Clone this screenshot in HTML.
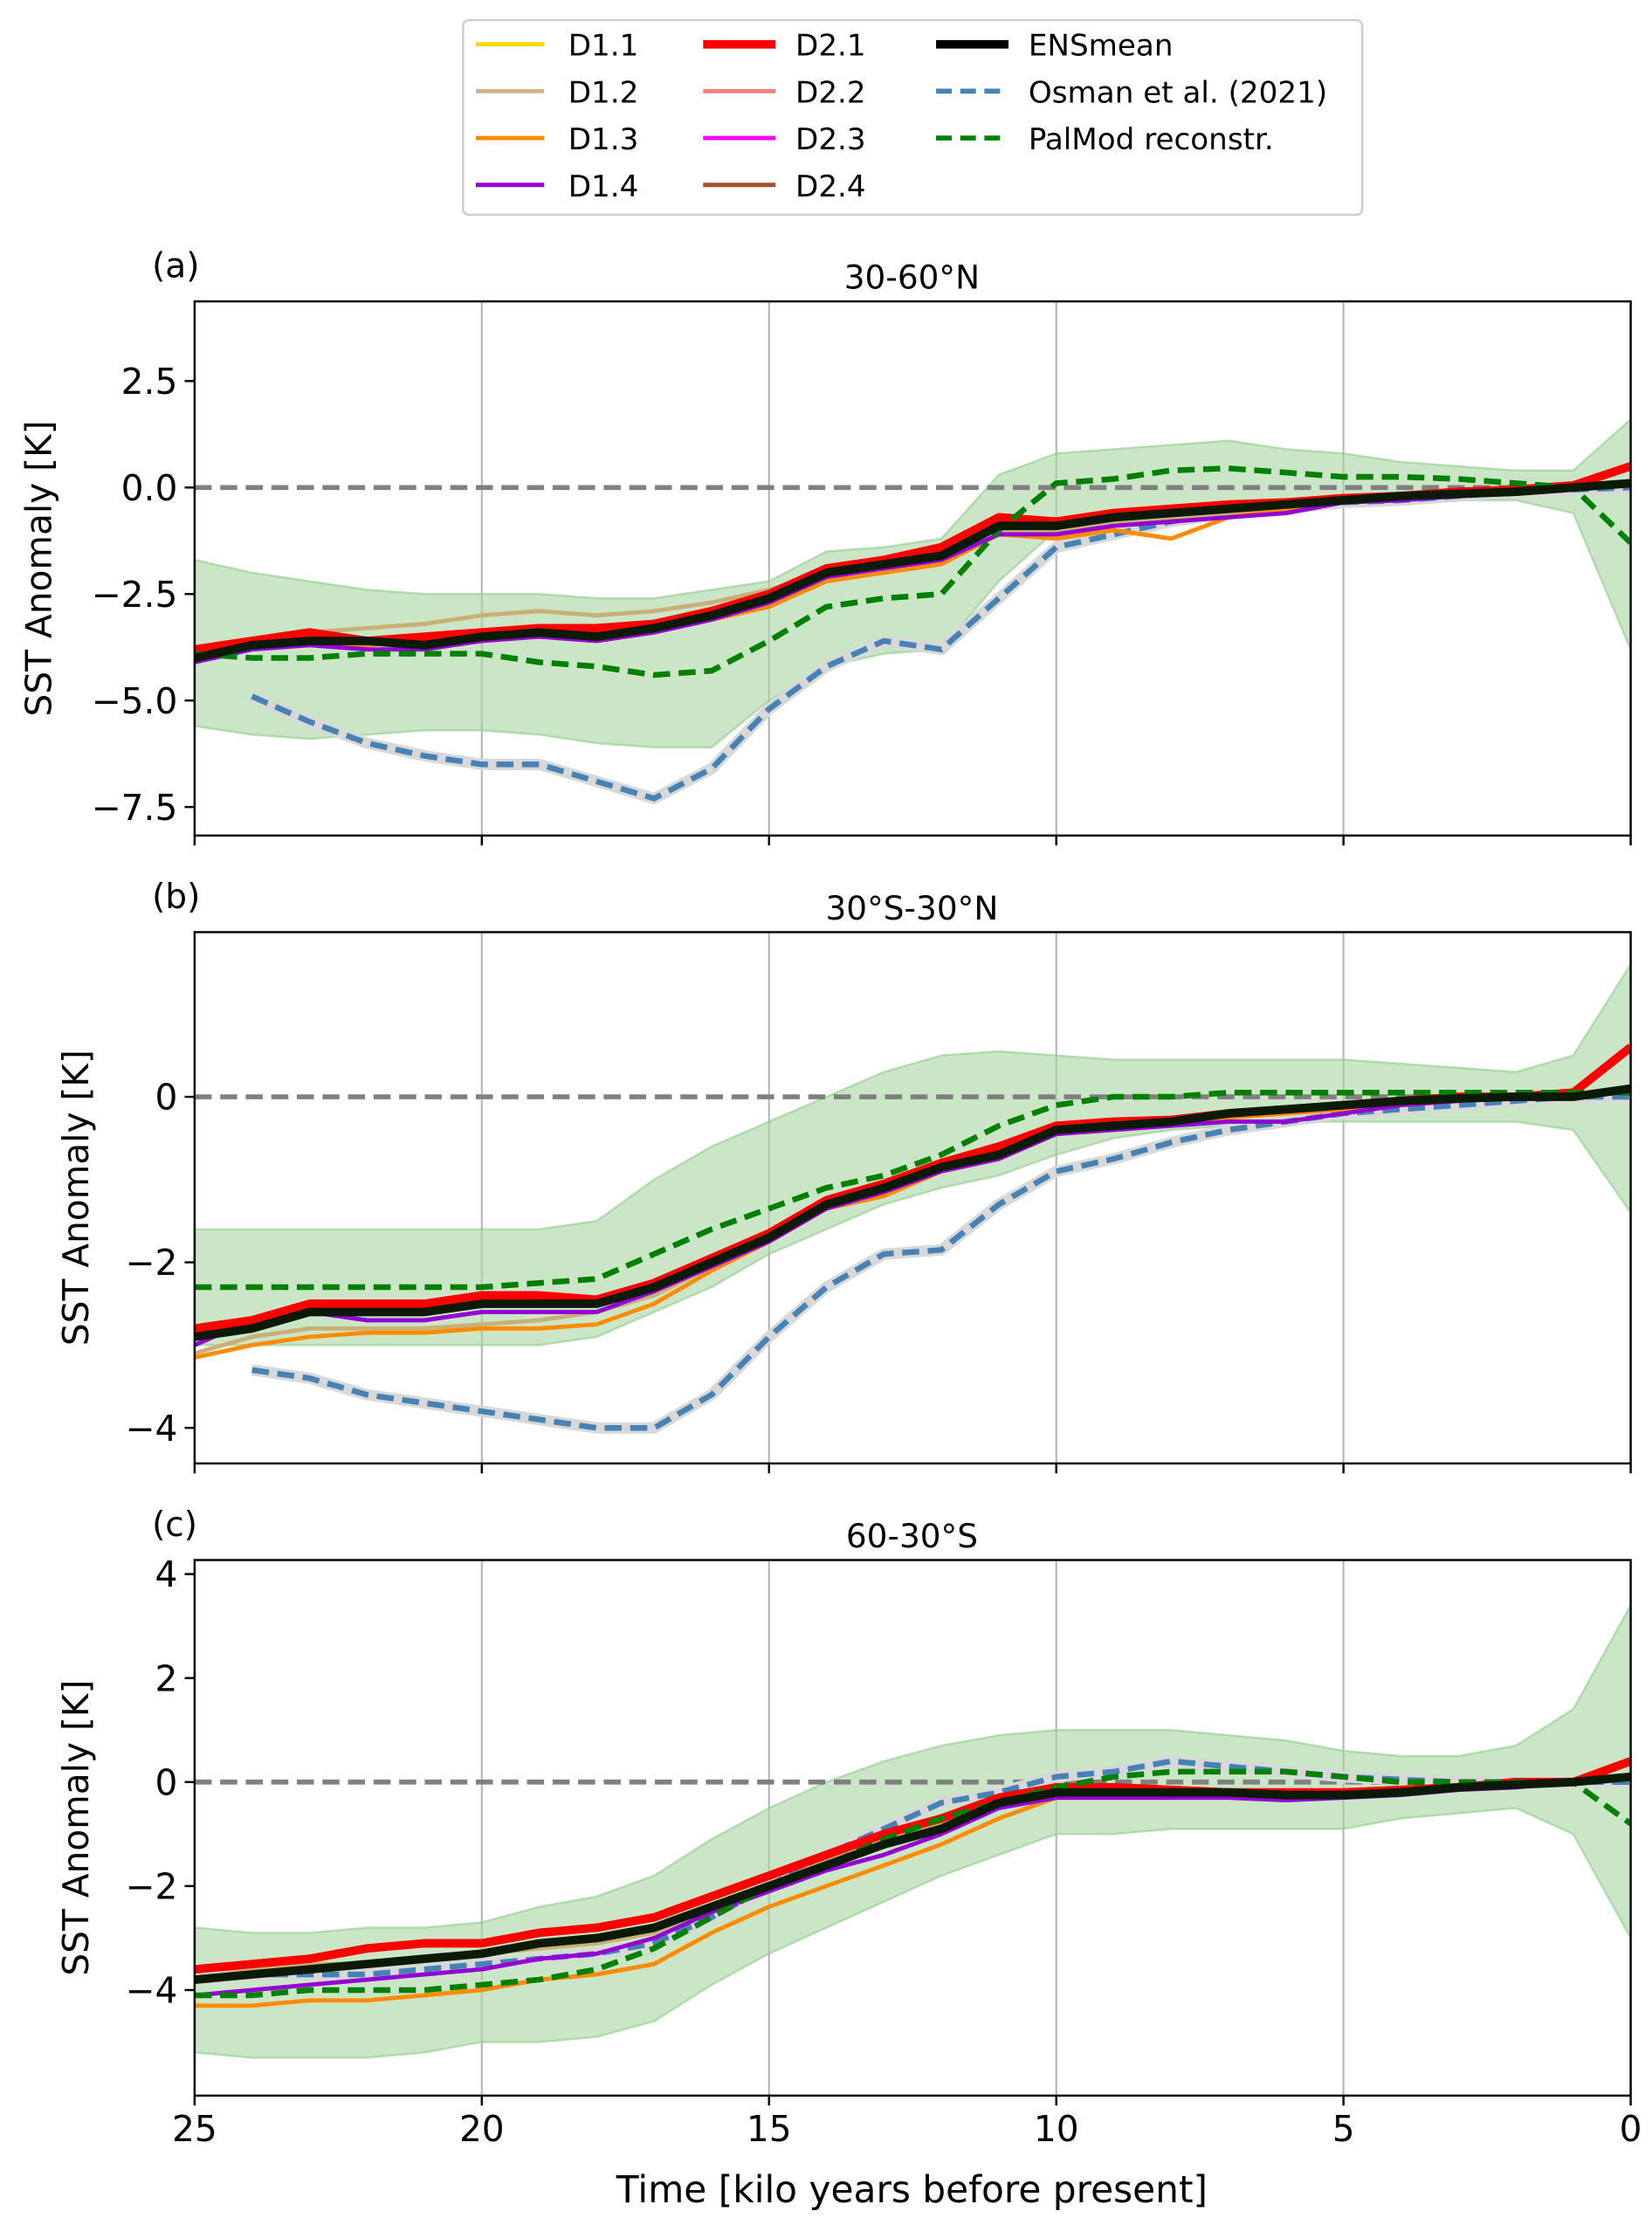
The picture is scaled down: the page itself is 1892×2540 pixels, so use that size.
<!DOCTYPE html>
<html><head><meta charset="utf-8"><style>
html,body{margin:0;padding:0;background:#fff}
svg{display:block;font-family:"DejaVu Sans","Liberation Sans",sans-serif}
</style></head><body>
<svg id="fig" width="1892" height="2540" viewBox="0 0 1163 1561" xmlns="http://www.w3.org/2000/svg">
<g id="legend">
<rect x="326" y="14" width="633" height="137" rx="4" fill="#fff" stroke="#ccc" stroke-width="1.5"/>
</g>
<g id="panels"></g>
<text x="642" y="1550" font-size="26" text-anchor="middle">Time [kilo years before present]</text>
</svg>
<script>
const times=[25,24,23,22,21,20,19,18,17,16,15,14,13,12,11,10,9,8,7,6,5,4,3,2,1,0];
// Panel a (30-60N)
const aEns=[-4.0,-3.7,-3.6,-3.6,-3.7,-3.5,-3.4,-3.5,-3.3,-3.0,-2.6,-2.0,-1.8,-1.6,-0.9,-0.9,-0.7,-0.6,-0.5,-0.4,-0.3,-0.2,-0.15,-0.1,0.0,0.1];
const aRed=[-3.8,-3.6,-3.4,-3.6,-3.5,-3.4,-3.3,-3.3,-3.2,-2.9,-2.5,-1.9,-1.7,-1.4,-0.7,-0.8,-0.6,-0.5,-0.4,-0.35,-0.25,-0.2,-0.1,-0.05,0.05,0.5];
const aOrange=[-4.0,-3.8,-3.7,-3.7,-3.6,-3.6,-3.5,-3.6,-3.4,-3.1,-2.8,-2.2,-2.0,-1.8,-1.1,-1.2,-1.0,-1.2,-0.7,-0.5,-0.3,-0.25,-0.2,-0.1,0.0,0.1];
const aPurple=[-4.1,-3.8,-3.7,-3.8,-3.8,-3.6,-3.5,-3.6,-3.4,-3.1,-2.7,-2.1,-1.9,-1.7,-1.1,-1.1,-0.9,-0.8,-0.7,-0.6,-0.35,-0.3,-0.2,-0.15,-0.05,0.05];
const aTan=[-4.1,-3.7,-3.4,-3.3,-3.2,-3.0,-2.9,-3.0,-2.9,-2.7,-2.4,-2.0,-1.7,-1.5,-1.0,-1.0,-0.8,-0.7,-0.6,-0.5,-0.3,-0.2,-0.2,-0.1,0.0,0.1];
const aOsman=[null,-4.9,-5.5,-6.0,-6.3,-6.5,-6.5,-6.9,-7.3,-6.6,-5.2,-4.2,-3.6,-3.8,-2.6,-1.4,-1.1,-0.8,-0.6,-0.5,-0.35,-0.3,-0.2,-0.1,-0.05,0.0];
const aPal=[-3.9,-4.0,-4.0,-3.9,-3.9,-3.9,-4.1,-4.2,-4.4,-4.3,-3.6,-2.8,-2.6,-2.5,-1.0,0.1,0.2,0.4,0.45,0.35,0.25,0.25,0.2,0.1,0.0,-1.3];
const aUp=[-1.7,-2.0,-2.2,-2.4,-2.5,-2.5,-2.5,-2.6,-2.6,-2.4,-2.2,-1.5,-1.4,-1.2,0.3,0.8,0.9,1.0,1.1,0.9,0.8,0.6,0.5,0.4,0.4,1.6];
const aLo=[-5.6,-5.8,-5.9,-5.8,-5.7,-5.7,-5.8,-6.0,-6.1,-6.1,-5.0,-4.2,-3.9,-3.8,-2.2,-1.0,-0.7,-0.5,-0.5,-0.4,-0.3,-0.2,-0.3,-0.3,-0.6,-3.8];
// Panel b (30S-30N)
const bEns=[-2.9,-2.8,-2.6,-2.6,-2.6,-2.5,-2.5,-2.5,-2.3,-2.0,-1.7,-1.3,-1.1,-0.85,-0.7,-0.4,-0.35,-0.3,-0.2,-0.15,-0.1,-0.05,-0.02,0.0,0.0,0.1];
const bRed=[-2.8,-2.7,-2.5,-2.5,-2.5,-2.4,-2.4,-2.45,-2.25,-1.95,-1.65,-1.25,-1.05,-0.8,-0.6,-0.35,-0.3,-0.28,-0.2,-0.15,-0.1,-0.05,0.0,0.0,0.05,0.6];
const bOrange=[-3.15,-3.0,-2.9,-2.85,-2.85,-2.8,-2.8,-2.75,-2.5,-2.1,-1.75,-1.35,-1.2,-0.9,-0.75,-0.45,-0.4,-0.3,-0.25,-0.2,-0.15,-0.1,-0.05,0.0,0.0,0.1];
const bPurple=[-3.0,-2.7,-2.6,-2.7,-2.7,-2.6,-2.6,-2.6,-2.35,-2.05,-1.75,-1.35,-1.15,-0.9,-0.75,-0.45,-0.4,-0.35,-0.3,-0.3,-0.2,-0.1,-0.05,0.0,0.0,0.1];
const bTan=[-3.1,-2.9,-2.8,-2.8,-2.8,-2.75,-2.7,-2.6,-2.4,-2.05,-1.7,-1.3,-1.1,-0.85,-0.7,-0.4,-0.35,-0.3,-0.2,-0.15,-0.1,-0.05,0.0,0.0,0.0,0.1];
const bOsman=[null,-3.3,-3.4,-3.6,-3.7,-3.8,-3.9,-4.0,-4.0,-3.6,-2.9,-2.3,-1.9,-1.85,-1.3,-0.9,-0.75,-0.55,-0.4,-0.3,-0.2,-0.15,-0.1,-0.05,0.0,0.0];
const bPal=[-2.3,-2.3,-2.3,-2.3,-2.3,-2.3,-2.25,-2.2,-1.9,-1.6,-1.35,-1.1,-0.95,-0.7,-0.35,-0.1,0.0,0.0,0.05,0.05,0.05,0.05,0.05,0.05,0.05,0.05];
const bUp=[-1.6,-1.6,-1.6,-1.6,-1.6,-1.6,-1.6,-1.5,-1.0,-0.6,-0.3,0.0,0.3,0.5,0.55,0.5,0.45,0.45,0.45,0.45,0.45,0.4,0.35,0.3,0.5,1.6];
const bLo=[-3.0,-3.0,-3.0,-3.0,-3.0,-3.0,-3.0,-2.9,-2.6,-2.3,-1.9,-1.6,-1.3,-1.1,-0.95,-0.7,-0.5,-0.4,-0.35,-0.3,-0.3,-0.3,-0.3,-0.3,-0.4,-1.4];
// Panel c (60-30S)
const cEns=[-3.8,-3.7,-3.6,-3.5,-3.4,-3.3,-3.1,-3.0,-2.8,-2.4,-2.0,-1.6,-1.2,-0.9,-0.4,-0.2,-0.2,-0.2,-0.2,-0.25,-0.25,-0.2,-0.1,-0.05,0.0,0.1];
const cRed=[-3.6,-3.5,-3.4,-3.2,-3.1,-3.1,-2.9,-2.8,-2.6,-2.2,-1.8,-1.4,-1.0,-0.7,-0.3,-0.1,-0.1,-0.15,-0.2,-0.2,-0.2,-0.15,-0.1,0.0,0.0,0.4];
const cOrange=[-4.3,-4.3,-4.2,-4.2,-4.1,-4.0,-3.8,-3.7,-3.5,-2.9,-2.4,-2.0,-1.6,-1.2,-0.7,-0.3,-0.3,-0.3,-0.2,-0.25,-0.25,-0.2,-0.1,-0.05,0.0,0.1];
const cPurple=[-4.1,-4.0,-3.9,-3.8,-3.7,-3.6,-3.4,-3.3,-3.0,-2.5,-2.1,-1.7,-1.4,-1.0,-0.5,-0.3,-0.3,-0.3,-0.3,-0.35,-0.3,-0.25,-0.15,-0.1,0.0,0.1];
const cTan=[-3.6,-3.6,-3.5,-3.5,-3.4,-3.3,-3.2,-3.1,-2.9,-2.4,-2.0,-1.5,-1.1,-0.8,-0.3,-0.15,-0.1,-0.2,-0.2,-0.2,-0.2,-0.15,-0.1,0.0,0.0,0.1];
const cOsman=[-3.8,-3.7,-3.7,-3.7,-3.6,-3.5,-3.4,-3.3,-3.1,-2.6,-2.0,-1.4,-0.9,-0.4,-0.2,0.1,0.2,0.4,0.3,0.2,0.1,0.05,0.0,0.0,0.0,0.0];
const cPal=[-4.1,-4.1,-4.0,-4.0,-4.0,-3.9,-3.8,-3.6,-3.2,-2.6,-2.0,-1.6,-1.1,-0.7,-0.4,-0.1,0.1,0.2,0.2,0.2,0.1,0.0,0.0,0.0,0.0,-0.8];
const cUp=[-2.8,-2.9,-2.9,-2.8,-2.8,-2.7,-2.4,-2.2,-1.8,-1.1,-0.5,0.0,0.4,0.7,0.9,1.0,1.0,1.0,0.9,0.8,0.6,0.5,0.5,0.7,1.4,3.4];
const cLo=[-5.2,-5.3,-5.3,-5.3,-5.2,-5.0,-5.0,-4.9,-4.6,-3.9,-3.3,-2.8,-2.3,-1.8,-1.4,-1.0,-1.0,-0.9,-0.9,-0.9,-0.9,-0.7,-0.6,-0.5,-1.0,-3.0];
const xTicks=[25,20,15,10,5,0];
const aTicks=[2.5,0,-2.5,-5,-7.5];
const bTicks=[0,-2,-4];
const cTicks=[4,2,0,-2,-4];

const NS='http://www.w3.org/2000/svg';
const root=document.getElementById('panels');
const X0=137,X1=1148;
const xs=t=>X0+(25-t)/25*(X1-X0);
function mk(tag,attrs,parent){const e=document.createElementNS(NS,tag);for(const k in attrs)e.setAttribute(k,attrs[k]);(parent||root).appendChild(e);return e;}
function pathD(vals,ys){let d='',pen=false;vals.forEach((v,i)=>{if(v===null){pen=false;return;}d+=(pen?'L':'M')+xs(times[i]).toFixed(1)+','+ys(v).toFixed(1);pen=true;});return d;}
const panels=[
 {id:'a',top:212,bot:588,ymax:4.37,ymin:-8.17,ticks:aTicks,fmt:v=>v===0?'0.0':(v<0?'\u2212'+Math.abs(v).toFixed(1):v.toFixed(1)),title:'30-60°N',ens:aEns,red:aRed,orange:aOrange,purple:aPurple,tan:aTan,osman:aOsman,pal:aPal,up:aUp,lo:aLo},
 {id:'b',top:656,bot:1030,ymax:1.99,ymin:-4.43,ticks:bTicks,fmt:v=>v<0?'\u2212'+Math.abs(v):String(v),title:'30°S-30°N',ens:bEns,red:bRed,orange:bOrange,purple:bPurple,tan:bTan,osman:bOsman,pal:bPal,up:bUp,lo:bLo},
 {id:'c',top:1098,bot:1475,ymax:4.27,ymin:-6.03,ticks:cTicks,fmt:v=>v<0?'\u2212'+Math.abs(v):String(v),title:'60-30°S',ens:cEns,red:cRed,orange:cOrange,purple:cPurple,tan:cTan,osman:cOsman,pal:cPal,up:cUp,lo:cLo}
];
panels.forEach((p,pi)=>{
 const g=mk('g',{});
 
 
 const ys=v=>p.top+(p.ymax-v)/(p.ymax-p.ymin)*(p.bot-p.top);
 const cid='clip'+p.id;
 const cp=mk('clipPath',{id:cid},g);mk('rect',{x:X0,y:p.top,width:X1-X0,height:p.bot-p.top},cp);
 const pg=mk('g',{'clip-path':'url(#'+cid+')'},g);
 xTicks.slice(1,5).forEach(t=>{const l=mk('line',{x1:xs(t),x2:xs(t),y1:p.top,y2:p.bot,stroke:'#b0b0b0','stroke-width':1.2},pg);});
 let d='';times.forEach((t,i)=>{d+=(i?'L':'M')+xs(t)+','+ys(p.up[i]);});
 for(let i=times.length-1;i>=0;i--)d+='L'+xs(times[i])+','+ys(p.lo[i]);
 const band=mk('path',{d:d+'Z',fill:'#a8d5a2','fill-opacity':0.6,stroke:'#8fcb8a','stroke-opacity':0.6,'stroke-width':1.5},pg);
 
 const z=mk('line',{x1:X0,x2:X1,y1:ys(0),y2:ys(0),stroke:'#808080','stroke-width':3.5,'stroke-dasharray':'12,6'},pg);
 
 const oh=mk('path',{d:pathD(p.osman,ys),fill:'none',stroke:'#d8d8d8','stroke-width':8,'stroke-linejoin':'round'},pg);
 
 const os=mk('path',{d:pathD(p.osman,ys),fill:'none',stroke:'#4682b4','stroke-width':4,'stroke-dasharray':'12,6'},pg);
 
 [['tan','#c8b078',3,'d1-2-line'],['orange','#ff8c00',3,'d1-3-line'],['purple','#9400d3',3,'d1-4-line'],['red','#ff0000',6,'d2-1-line']].forEach(m=>{
  const e=mk('path',{d:pathD(p[m[0]],ys),fill:'none',stroke:m[1],'stroke-width':m[2],'stroke-linejoin':'round'},pg);
  
 });
 const pal=mk('path',{d:pathD(p.pal,ys),fill:'none',stroke:'#008000','stroke-width':4,'stroke-dasharray':'12,6'},pg);
 
 const ens=mk('path',{d:pathD(p.ens,ys),fill:'none',stroke:'#0a1a05','stroke-width':6,'stroke-linejoin':'round'},pg);
 
 mk('rect',{x:X0,y:p.top,width:X1-X0,height:p.bot-p.top,fill:'none',stroke:'#000','stroke-width':1.5},g);
 p.ticks.forEach(v=>{
  mk('line',{x1:X0-7,x2:X0,y1:ys(v),y2:ys(v),stroke:'#000','stroke-width':1.5},g);
  const t=mk('text',{x:X0-12,y:ys(v)+9,'font-size':25,'text-anchor':'end'},g);t.textContent=p.fmt(v);
  
 });
 xTicks.forEach(v=>{
  mk('line',{x1:xs(v),x2:xs(v),y1:p.bot,y2:p.bot+7,stroke:'#000','stroke-width':1.5},g);
  if(pi===2){const t=mk('text',{x:xs(v),y:p.bot+32,'font-size':25,'text-anchor':'middle'},g);t.textContent=v;
  }
 });
 const yt=mk('text',{x:0,y:0,'font-size':25,'text-anchor':'middle',transform:'translate('+(pi===0?36:62)+','+((p.top+p.bot)/2)+') rotate(-90)'},g);
 yt.textContent='SST Anomaly [K]';
 const tt=mk('text',{x:642,y:p.top-9,'font-size':23,'text-anchor':'middle'},g);tt.textContent=p.title;
 
 const lt=mk('text',{x:107,y:p.top-17,'font-size':24},g);lt.textContent='('+p.id+')';
 
});
const lg=document.getElementById('legend');
const entries=[
 ['D1.1','#ffd700',3,null,0,0],['D1.2','#d2b48c',3,null,0,1],['D1.3','#ff8c00',3,null,0,2],['D1.4','#9400d3',3,null,0,3],
 ['D2.1','#ff0000',6,null,1,0],['D2.2','#f08080',3,null,1,1],['D2.3','#ff00ff',3,null,1,2],['D2.4','#a0522d',3,null,1,3],
 ['ENSmean','#000000',6,null,2,0],['Osman et al. (2021)','#4682b4',3.5,'11,6',2,1],['PalMod reconstr.','#008000',3.5,'11,6',2,2]];
const colX=[[335,383,400],[495,546,560],[659,710,724]];
entries.forEach(e=>{
 const y=31+e[5]*33;const c=colX[e[4]];
 const g=mk('g',{},lg);
 
 
 const a={x1:c[0],x2:c[1],y1:y,y2:y,stroke:e[1],'stroke-width':e[2]};if(e[3])a['stroke-dasharray']=e[3];
 mk('line',a,g);
 const t=mk('text',{x:c[2],y:y+8,'font-size':21},g);t.textContent=e[0];
});
</script>
</body></html>
